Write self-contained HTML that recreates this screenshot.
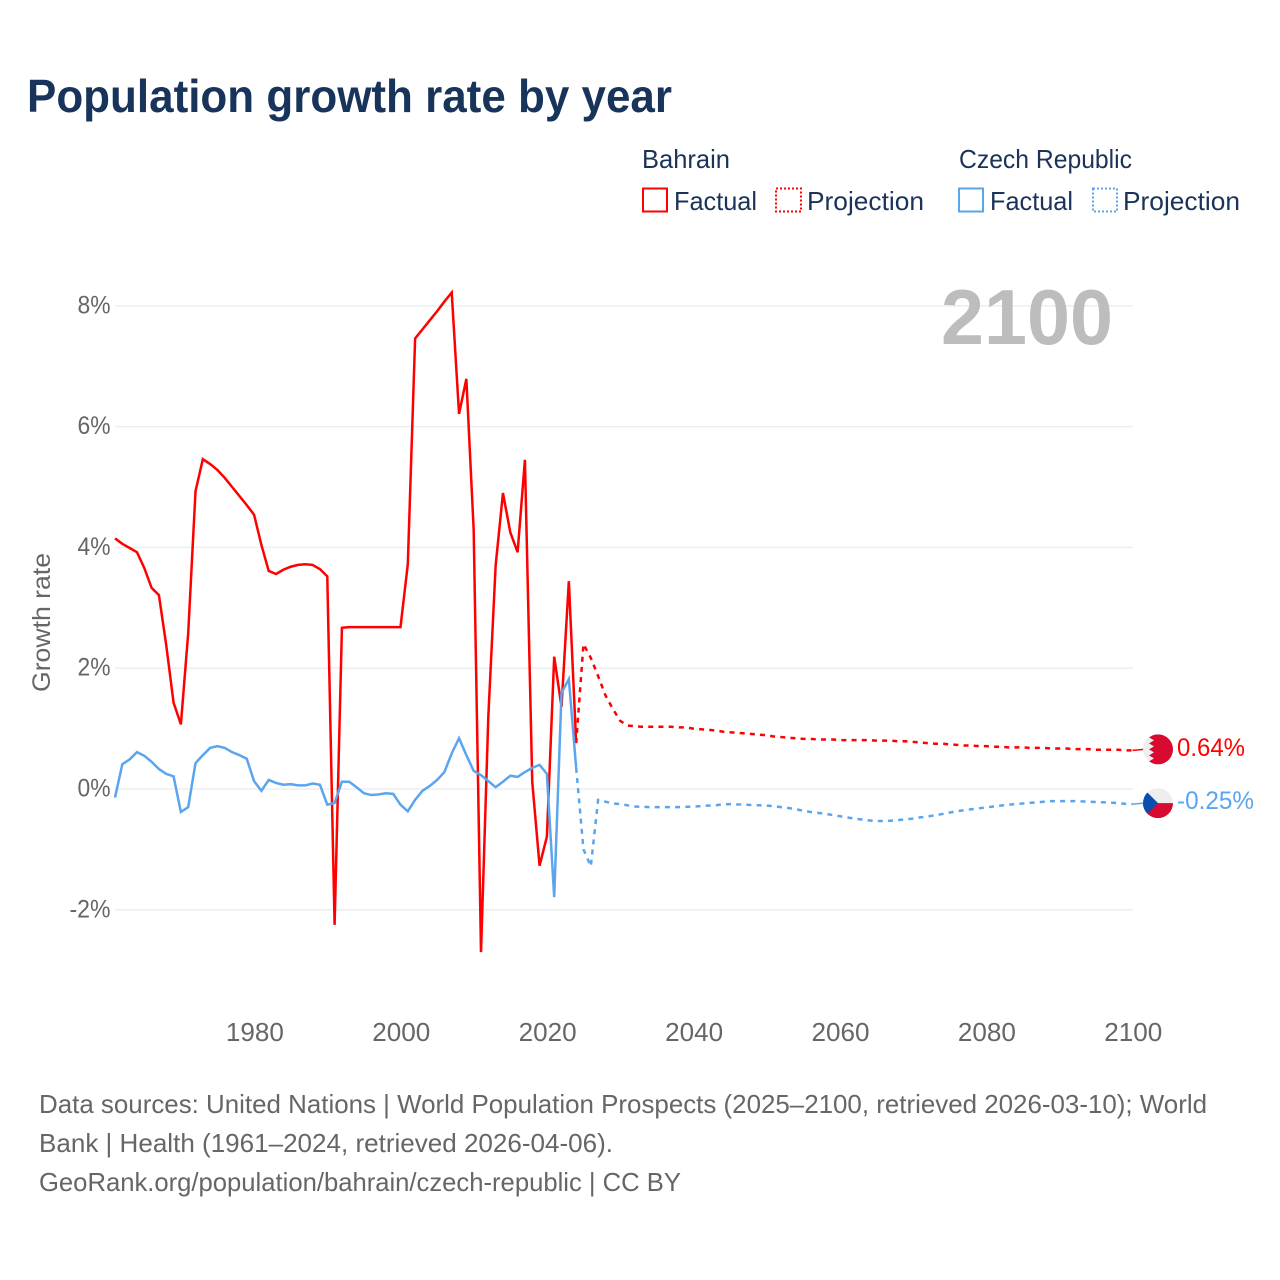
<!DOCTYPE html>
<html lang="en">
<head>
<meta charset="utf-8">
<title>Population growth rate by year</title>
<style>
html,body{margin:0;padding:0;background:#fff;}
svg{display:block;font-family:"Liberation Sans",sans-serif;}
</style>
</head>
<body>
<svg id="chart" width="1280" height="1280" viewBox="0 0 1280 1280" xmlns="http://www.w3.org/2000/svg">
  <rect x="0" y="0" width="1280" height="1280" fill="#ffffff"/>
  <text x="27" y="112" font-size="46" font-weight="700" fill="#18345a" textLength="645" lengthAdjust="spacingAndGlyphs">Population growth rate by year</text>

  <g font-size="26" fill="#1b3358">
    <text x="642" y="168" textLength="88" lengthAdjust="spacingAndGlyphs">Bahrain</text>
    <text x="959" y="168" textLength="173" lengthAdjust="spacingAndGlyphs">Czech Republic</text>
    <rect x="643" y="188.5" width="24" height="23" fill="none" stroke="#ff0000" stroke-width="2"/>
    <text x="674" y="210" textLength="83" lengthAdjust="spacingAndGlyphs">Factual</text>
    <rect x="776" y="188.5" width="25" height="23" fill="none" stroke="#ff0000" stroke-width="2" stroke-dasharray="2 2"/>
    <text x="807" y="210" textLength="117" lengthAdjust="spacingAndGlyphs">Projection</text>
    <rect x="959" y="188.5" width="24" height="23" fill="none" stroke="#5aa5ee" stroke-width="2"/>
    <text x="990" y="210" textLength="83" lengthAdjust="spacingAndGlyphs">Factual</text>
    <rect x="1093" y="188.5" width="24" height="23" fill="none" stroke="#5aa5ee" stroke-width="2" stroke-dasharray="2 2"/>
    <text x="1123" y="210" textLength="117" lengthAdjust="spacingAndGlyphs">Projection</text>
  </g>

  <g id="grid"></g>
  <g id="yticks"></g>
  <g id="xticks"></g>
  <text transform="translate(50,692) rotate(-90)" font-size="25" fill="#666666" textLength="139" lengthAdjust="spacingAndGlyphs">Growth rate</text>
  <text x="941" y="344" font-size="78" font-weight="700" fill="#bdbdbd" textLength="172" lengthAdjust="spacingAndGlyphs">2100</text>

  <g id="series"></g>

  <g id="flag-bahrain">
    <clipPath id="clip-bh"><circle cx="0" cy="0" r="15"/></clipPath>
    <g clip-path="url(#clip-bh)">
      <rect x="-15" y="-15" width="30" height="30" fill="#eeeeee"/>
      <polygon fill="#d80a30" points="-4,-15 -9,-12 -4,-9 -9,-6 -4,-3 -9,0 -4,3 -9,6 -4,9 -9,12 -4,15 15,15 15,-15"/>
    </g>
  </g>
  <g id="flag-czech">
    <clipPath id="clip-cz"><circle cx="0" cy="0" r="15"/></clipPath>
    <g clip-path="url(#clip-cz)">
      <rect x="-15" y="-15" width="30" height="15" fill="#eeeeee"/>
      <rect x="-15" y="0" width="30" height="15" fill="#d80a30"/>
      <polygon fill="#0b4fae" points="-15,-15 0,0 -15,15"/>
    </g>
  </g>
  <text x="1177" y="756" font-size="25" fill="#ff0000" textLength="68" lengthAdjust="spacingAndGlyphs">0.64%</text>
  <text x="1177" y="809" font-size="25" fill="#5aa5ee" textLength="77" lengthAdjust="spacingAndGlyphs">-0.25%</text>

  <g font-size="26" fill="#666666">
    <text x="39" y="1113" textLength="1168" lengthAdjust="spacingAndGlyphs">Data sources: United Nations | World Population Prospects (2025–2100, retrieved 2026-03-10); World</text>
    <text x="39" y="1152" textLength="574" lengthAdjust="spacingAndGlyphs">Bank | Health (1961–2024, retrieved 2026-04-06).</text>
    <text x="39" y="1191" textLength="642" lengthAdjust="spacingAndGlyphs">GeoRank.org/population/bahrain/czech-republic | CC BY</text>
  </g>
</svg>
<script>
const factualStartYear = 1961;
const projectionStartYear = 2024;
const yTickValues = [8, 6, 4, 2, 0, -2];
const yTickLabels = ["8%", "6%", "4%", "2%", "0%", "-2%"];
const xTickYears = [1980, 2000, 2020, 2040, 2060, 2080, 2100];
const bahrainFactual = [4.15,4.06,3.99,3.92,3.66,3.33,3.21,2.38,1.43,1.07,2.58,4.93,5.46,5.38,5.28,5.15,5.0,4.85,4.7,4.54,4.04,3.61,3.56,3.63,3.68,3.71,3.72,3.71,3.64,3.52,-2.25,2.67,2.68,2.68,2.68,2.68,2.68,2.68,2.68,2.68,3.72,7.46,7.61,7.76,7.91,8.07,8.22,6.21,6.79,4.29,-2.70,1.2,3.7,4.9,4.25,3.92,5.45,0.12,-1.27,-0.79,2.19,1.36,3.44,0.76];
const czechFactual = [-0.14,0.41,0.49,0.61,0.55,0.45,0.33,0.25,0.21,-0.38,-0.30,0.43,0.56,0.68,0.71,0.68,0.61,0.56,0.5,0.13,-0.03,0.15,0.1,0.07,0.08,0.06,0.06,0.09,0.07,-0.26,-0.23,0.12,0.12,0.03,-0.07,-0.1,-0.09,-0.07,-0.08,-0.26,-0.37,-0.18,-0.03,0.05,0.15,0.28,0.59,0.84,0.56,0.3,0.23,0.13,0.03,0.12,0.22,0.2,0.28,0.35,0.4,0.25,-1.79,1.59,1.82,0.35];
const bahrainProjection = [0.76,2.40,2.17,1.87,1.55,1.33,1.13,1.05,1.04,1.03,1.03,1.03,1.03,1.03,1.02,1.02,1.00,0.99,0.98,0.97,0.95,0.94,0.93,0.92,0.91,0.90,0.89,0.87,0.86,0.85,0.84,0.83,0.83,0.82,0.82,0.82,0.81,0.81,0.81,0.81,0.81,0.80,0.80,0.80,0.79,0.79,0.78,0.77,0.76,0.75,0.75,0.74,0.73,0.72,0.72,0.71,0.71,0.70,0.70,0.69,0.69,0.69,0.68,0.68,0.68,0.67,0.67,0.67,0.66,0.66,0.66,0.65,0.65,0.65,0.65,0.64,0.64];
const czechProjection = [0.35,-1.0,-1.28,-0.18,-0.21,-0.24,-0.25,-0.27,-0.29,-0.295,-0.30,-0.30,-0.30,-0.30,-0.30,-0.295,-0.29,-0.285,-0.275,-0.27,-0.255,-0.25,-0.255,-0.26,-0.265,-0.27,-0.275,-0.285,-0.30,-0.315,-0.335,-0.36,-0.38,-0.395,-0.41,-0.43,-0.45,-0.47,-0.49,-0.505,-0.52,-0.53,-0.53,-0.525,-0.515,-0.50,-0.49,-0.47,-0.455,-0.435,-0.415,-0.39,-0.37,-0.35,-0.335,-0.32,-0.305,-0.29,-0.275,-0.26,-0.25,-0.24,-0.23,-0.22,-0.21,-0.20,-0.20,-0.20,-0.20,-0.205,-0.21,-0.215,-0.22,-0.225,-0.235,-0.245,-0.25];

const NS = 'http://www.w3.org/2000/svg';
const RED = '#ff0000';
const BLUE = '#5aa5ee';
function xScale(year) { return 115 + (year - 1961) * 7.32; }
function yScale(value) { return 789 - value * 60.4; }
function make(tag, attrs, parent) {
  const el = document.createElementNS(NS, tag);
  for (const k in attrs) el.setAttribute(k, attrs[k]);
  parent.appendChild(el);
  return el;
}
function pathFrom(values, startYear) {
  return values.map((v, i) => (i ? 'L' : 'M') + xScale(startYear + i).toFixed(2) + ' ' + yScale(v).toFixed(2)).join(' ');
}

const grid = document.getElementById('grid');
const yticks = document.getElementById('yticks');
yTickValues.forEach((v, i) => {
  const line = make('line', {x1: 115, x2: 1133, y1: yScale(v), y2: yScale(v), stroke: '#eeeeee', 'stroke-width': 1.5}, grid);
  
  
  const label = yTickLabels[i];
  const t = make('text', {x: 110.5, y: yScale(v) + 7.5, 'text-anchor': 'end', 'font-size': 25, fill: '#666666', textLength: label.charAt(0) === '-' ? 41 : 33, lengthAdjust: 'spacingAndGlyphs'}, yticks);
  
  
  t.textContent = label;
});

const xticks = document.getElementById('xticks');
xTickYears.forEach(year => {
  const t = make('text', {x: xScale(year) + 0.8, y: 1041, 'text-anchor': 'middle', 'font-size': 25.5, fill: '#666666', textLength: 58, lengthAdjust: 'spacingAndGlyphs'}, xticks);
  
  
  t.textContent = String(year);
});

const series = document.getElementById('series');
function drawLine(values, startYear, color, dashed, name) {
  const attrs = {d: pathFrom(values, startYear), fill: 'none', stroke: color, 'stroke-width': 2.5, 'stroke-linejoin': 'miter'};
  if (dashed) attrs['stroke-dasharray'] = '5 5.2';
  const p = make('path', attrs, series);
  
  
}
drawLine(bahrainProjection, projectionStartYear, RED, true, 'line-bahrain-projection');
drawLine(bahrainFactual, factualStartYear, RED, false, 'line-bahrain-factual');
drawLine(czechProjection, projectionStartYear, BLUE, true, 'line-czech-projection');
drawLine(czechFactual, factualStartYear, BLUE, false, 'line-czech-factual');

const lastYear = projectionStartYear + bahrainProjection.length - 1;
const bhLastY = yScale(bahrainProjection[bahrainProjection.length - 1]);
const czLastY = yScale(czechProjection[czechProjection.length - 1]);
const c1 = make('line', {x1: xScale(lastYear), x2: 1144, y1: bhLastY, y2: bhLastY - 1, stroke: RED, 'stroke-width': 1.5}, series);


const c2 = make('line', {x1: xScale(lastYear), x2: 1144, y1: czLastY, y2: czLastY - 1, stroke: BLUE, 'stroke-width': 1.5}, series);


document.getElementById('flag-bahrain').setAttribute('transform', 'translate(1158,' + (bhLastY - 1) + ')');
document.getElementById('flag-czech').setAttribute('transform', 'translate(1158,' + (czLastY - 1) + ')');
</script>
</body>
</html>
